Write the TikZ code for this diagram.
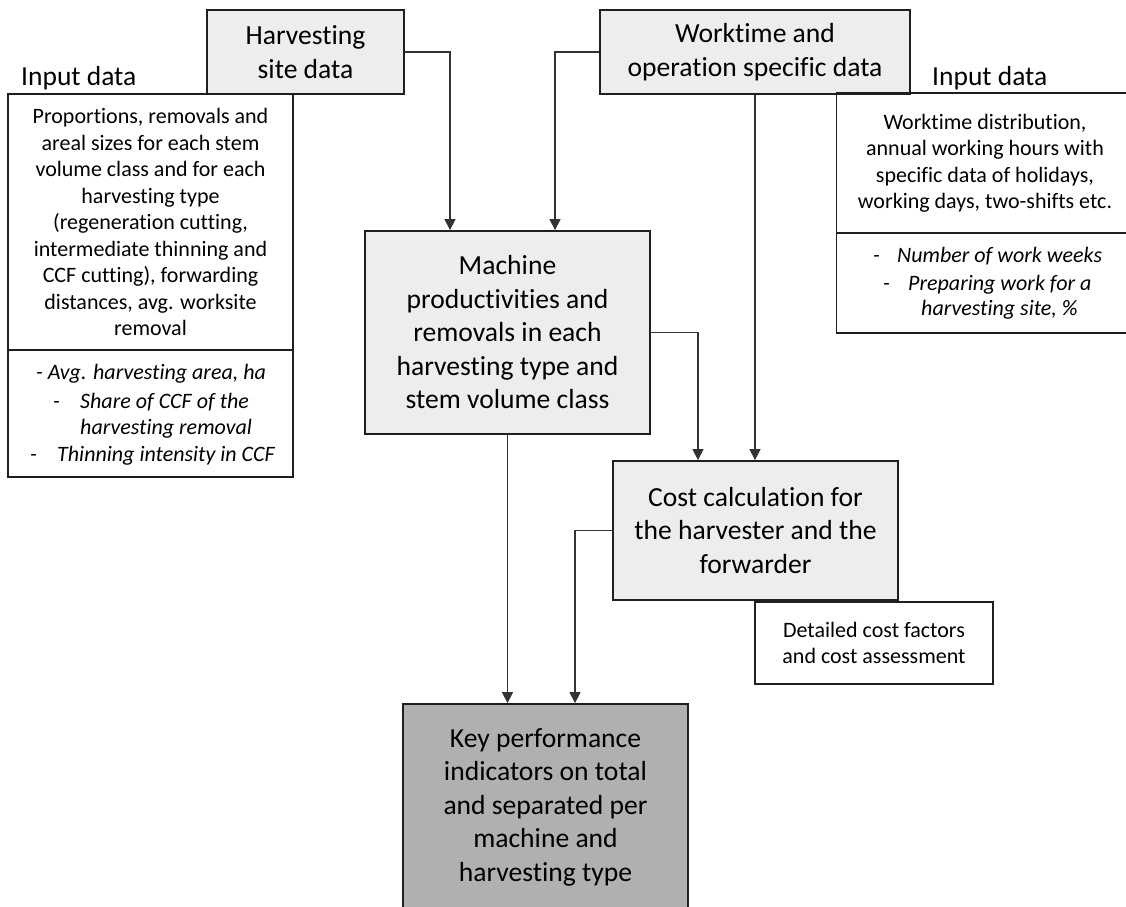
\documentclass[tikz,border=0pt]{standalone}
\usepackage{fontspec}
\setmainfont{Carlito}[RawFeature=-liga,RawFeature=-clig,RawFeature=-calt,RawFeature=-dlig]
\usetikzlibrary{arrows.meta,calc}
\begin{document}
\begin{tikzpicture}[x=1pt,y=-1pt,
  box/.style={draw=black!88,line width=1.8pt,inner sep=0pt,align=center,
    font=\fontsize{27.6}{33.5}\selectfont},
  litebox/.style={box,fill=black!7},
  keybox/.style={box,fill=black!31},
  inbox/.style={box,font=\fontsize{22}{26.5}\selectfont},
  lbl/.style={inner sep=0pt,anchor=base west,font=\fontsize{27.5}{30}\selectfont},
  itl/.style={inner sep=0pt,anchor=base west,font=\fontsize{22}{26.5}\selectfont\itshape},
  arr/.style={draw=black!80,line width=1.2pt,-{Triangle[width=11pt,length=11pt]}},
  conn/.style={draw=black!80,line width=1.2pt}
]
\useasboundingbox[fill=white] (0,0) rectangle (1126,906);
\begin{scope}
\clip (0,0) rectangle (1126,906);
% boxes
\node[litebox,minimum width=197pt,minimum height=84pt] (hsd) at (305.5,52) {Harvesting\\site data};
\node[litebox,minimum width=310pt,minimum height=84pt] (wt) at (755,52) {Worktime and\\operation specific data};
\node[inbox,minimum width=285pt,minimum height=256pt] (lin1) at (150.5,222) {Proportions, removals and\\areal sizes for each stem\\volume class and for each\\harvesting type\\(regeneration cutting,\\intermediate thinning and\\CCF cutting), forwarding\\distances, avg. worksite\\removal};
\node[inbox,minimum width=285pt,minimum height=127pt] (lin2) at (150.5,413.5) {};
\node[inbox,minimum width=297pt,minimum height=140pt] (rin1) at (985,163) {Worktime distribution,\\annual working hours with\\specific data of holidays,\\working days, two-shifts etc.};
\node[inbox,minimum width=297pt,minimum height=100pt] (rin2) at (985,283) {};
\node[litebox,minimum width=285pt,minimum height=203pt] (mach) at (507.5,332.5) {Machine\\productivities and\\removals in each\\harvesting type and\\stem volume class};
\node[litebox,minimum width=285pt,minimum height=139pt] (cost) at (755.5,530.5) {Cost calculation for\\the harvester and the\\forwarder};
\node[inbox,minimum width=238pt,minimum height=82pt] (det) at (874,643) {Detailed cost factors\\and cost assessment};
\node[keybox,minimum width=285pt,minimum height=206pt] (key) at (545.5,807) {Key performance\\indicators on total\\and separated per\\machine and\\harvesting type};
% labels
\node[lbl] (inl) at (21,85) {Input data};
\node[lbl] (inr) at (932,85) {Input data};
% italic lists
\node[itl] (l1) at (36,379) {- Avg. harvesting area, ha};
\node[itl] (l2d) at (53,408) {-};
\node[itl] (l2) at (80,408) {Share of CCF of the};
\node[itl] (l3) at (80,434) {harvesting removal};
\node[itl] (l4d) at (30,461) {-};
\node[itl] (l4) at (57,461) {Thinning intensity in CCF};
\node[itl] (r1d) at (873,262) {-};
\node[itl] (r1) at (897,262) {Number of work weeks};
\node[itl] (r2d) at (883,290) {-};
\node[itl] (r2) at (908,290) {Preparing work for a};
\node[itl] (r3) at (921,315) {harvesting site, \%};
% connectors
\draw[arr] (hsd.east) -| ([xshift=-57.5pt]mach.north);
\draw[arr] (wt.west) -| ([xshift=47.5pt]mach.north);
\draw[arr] (wt.south) -- (wt.south |- cost.north);
\draw[arr] (mach.east) -| ([xshift=-57.5pt]cost.north);
\draw[arr] (mach.south) -- (mach.south |- key.north);
\draw[arr] (cost.west) -| ([xshift=29.5pt]key.north);
\end{scope}
\end{tikzpicture}
\end{document}
